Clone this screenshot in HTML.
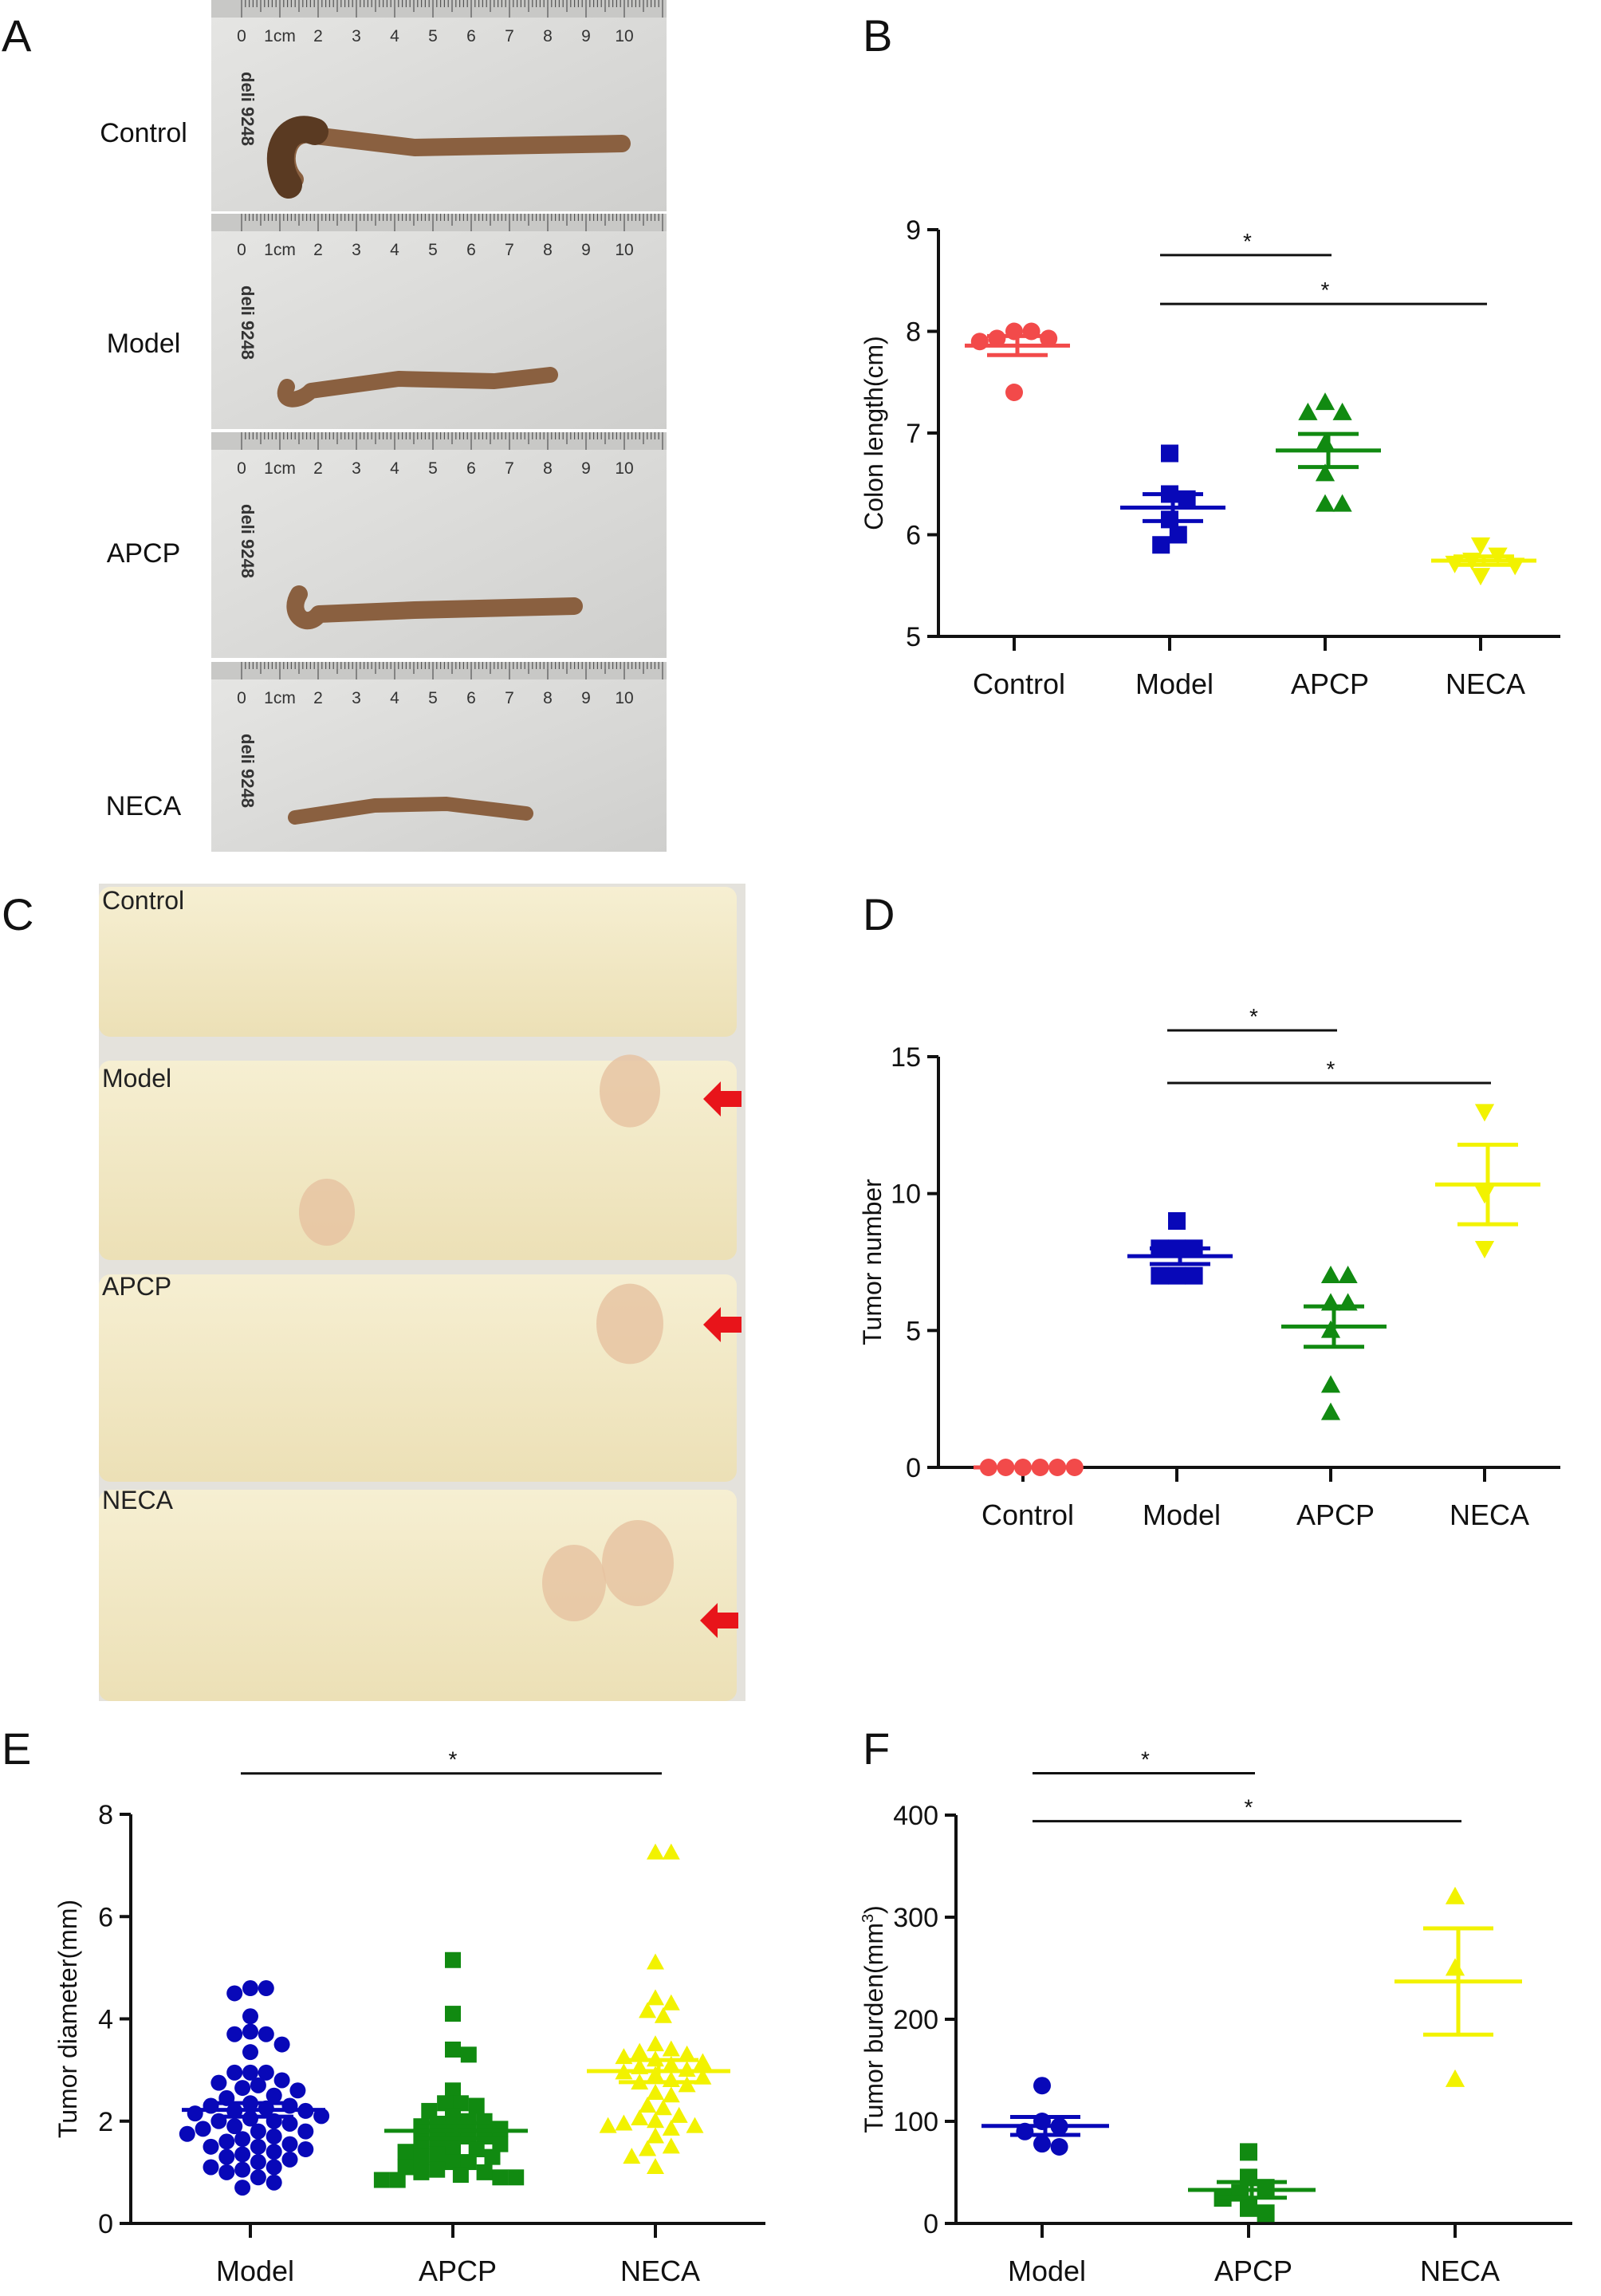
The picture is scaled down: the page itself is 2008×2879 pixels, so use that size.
<!DOCTYPE html>
<html><head><meta charset="utf-8"><style>
html,body{margin:0;padding:0;background:#fff;}
svg{display:block;font-family:"Liberation Sans",Arial,sans-serif;}
</style></head><body>
<svg id="fig" width="2008" height="2879" viewBox="0 0 2008 2879" xmlns="http://www.w3.org/2000/svg">
<defs>
<linearGradient id="grayBg" x1="0" y1="0" x2="1" y2="1"><stop offset="0" stop-color="#e6e6e4"/><stop offset="1" stop-color="#cfcfcd"/></linearGradient>
<linearGradient id="tissue" x1="0" y1="0" x2="0" y2="1"><stop offset="0" stop-color="#f6efd2"/><stop offset="1" stop-color="#ece0b6"/></linearGradient>
</defs>
<g id="photosA"></g>
<g id="photosC"></g>
<g id="charts"></g>
<g font-size="56" fill="#111">
<text x="2" y="64">A</text>
<text x="1082" y="64">B</text>
<text x="2" y="1166">C</text>
<text x="1082" y="1166">D</text>
<text x="2" y="2212">E</text>
<text x="1082" y="2212">F</text>
</g>
<g font-size="34" fill="#111" text-anchor="middle">
<text x="180" y="178">Control</text>
<text x="180" y="442">Model</text>
<text x="180" y="705">APCP</text>
<text x="180" y="1022">NECA</text>
</g>
</svg>
<script>
const NS="http://www.w3.org/2000/svg";
function mk(tag,attrs,parent){const e=document.createElementNS(NS,tag);for(const k in attrs)e.setAttribute(k,attrs[k]);if(parent)parent.appendChild(e);return e;}

// ---------- Photos A ----------
const pA=document.getElementById('photosA');
const subs=[[0,265,'control'],[268,538,'model'],[542,825,'apcp'],[830,1068,'neca']];
const colonPaths=[
 "M395 170 C360 160 350 205 370 225 M395 170 L520 185 L780 180",
 "M360 485 C350 505 375 505 390 490 L500 475 L620 478 L690 470",
 "M375 745 C360 770 385 790 400 770 L520 765 L720 760",
 "M370 1025 L470 1010 L560 1008 L660 1020"];
const colonW=[22,20,22,18];
subs.forEach((s,i)=>{
 const g=mk('g',{},pA);
 
 
 mk('rect',{x:265,y:s[0],width:571,height:s[1]-s[0],fill:'url(#grayBg)'},g);
 mk('rect',{x:265,y:s[0],width:571,height:22,fill:'#c8c8c6'},g);
 for(let k=0;k<=110;k++){const x=303+k*4.8;const h=k%10==0?22:(k%5==0?15:9);mk('line',{x1:x,y1:s[0],x2:x,y2:s[0]+h,stroke:'#555','stroke-width':1.2},g);}
 for(let k=0;k<=10;k++){const t=mk('text',{x:303+k*48,y:s[0]+52,'font-size':21,fill:'#333','text-anchor':'middle'},g);t.textContent=k==1?'1cm':String(k);}
 const dl=mk('text',{x:0,y:0,'font-size':22,fill:'#333','font-weight':'bold',transform:`translate(303,${s[0]+90}) rotate(90)`},g);dl.textContent='deli 9248';
 mk('path',{d:colonPaths[i],fill:'none',stroke:'#8a6040','stroke-width':colonW[i],'stroke-linecap':'round','stroke-linejoin':'round'},g);
});
mk('path',{d:"M395 165 C355 150 340 200 362 232",fill:'none',stroke:'#5a3a22','stroke-width':34,'stroke-linecap':'round'},pA);

// ---------- Photos C ----------
const pC=document.getElementById('photosC');
mk('rect',{x:124,y:1108,width:811,height:1025,fill:'#e4e2dc'},pC);
const strips=[[1112,1300],[1330,1580],[1598,1858],[1868,2133]];
strips.forEach((s,i)=>{mk('rect',{x:124,y:s[0],width:800,height:s[1]-s[0],rx:14,fill:'url(#tissue)'},pC);});
[[790,1368,38],[410,1520,35],[790,1660,42],[800,1960,45],[720,1985,40]].forEach(c=>mk('ellipse',{cx:c[0],cy:c[1],rx:c[2],ry:c[2]*1.2,fill:'#e6c2a0',opacity:0.8},pC));
const cl=[['Control',1140],['Model',1363],['APCP',1624],['NECA',1892]];
cl.forEach(c=>{const t=mk('text',{x:128,y:c[1],'font-size':32,fill:'#222'},pC);t.textContent=c[0];});
[[904,1378],[904,1661],[900,2032]].forEach(a=>{const p=mk('path',{d:`M${a[0]-22} ${a[1]} L${a[0]} ${a[1]-22} L${a[0]} ${a[1]-10} L${a[0]+26} ${a[1]-10} L${a[0]+26} ${a[1]+10} L${a[0]} ${a[1]+10} L${a[0]} ${a[1]+22} Z`,fill:'#e8141a'},pC);
 
 });

// ---------- Chart data ----------
const catsB=['Control','Model','APCP','NECA'];
const bControl=[8.0,8.0,7.93,7.93,7.9,7.4];
const bModel=[6.8,6.4,6.35,6.15,6.0,5.9];
const bAPCP=[7.3,7.2,7.2,6.9,6.6,6.3,6.3];
const bNECA=[5.9,5.8,5.75,5.72,5.7,5.6];
const ticksB=[5,6,7,8,9];
const sigB=[[1,2,8.75],[1,3,8.27]];

const catsD=['Control','Model','APCP','NECA'];
const dControl=[0,0,0,0,0,0];
const dModel=[9,8,8,8,7,7,7];
const dAPCP=[7,7,6,6,5,3,2];
const dNECA=[13,10,8];
const ticksD=[0,5,10,15];
const sigD=[[1,2,15.96],[1,3,14.04]];

const catsE=['Model','APCP','NECA'];
const eModel=[4.6,4.6,4.5,4.05,3.75,3.7,3.7,3.5,3.35,2.95,2.95,2.95,2.8,2.75,2.7,2.65,2.6,2.5,2.45,2.35,2.3,2.3,2.25,2.2,2.2,2.15,2.1,2.05,2.0,2.0,1.95,1.9,1.85,1.8,1.8,1.75,1.7,1.65,1.6,1.55,1.5,1.5,1.45,1.4,1.35,1.3,1.25,1.2,1.1,1.1,1.05,1.0,0.9,0.8,0.7];
const eAPCP=[5.15,4.1,3.4,3.3,2.6,2.35,2.3,2.35,2.2,2.1,2.0,2.0,1.95,1.9,1.85,1.8,1.7,1.7,1.65,1.6,1.55,1.5,1.45,1.4,1.35,1.3,1.3,1.2,1.2,1.1,1.05,1.0,1.0,0.95,0.9,0.9,0.85,0.85];
const eNECA=[7.25,7.25,5.1,4.4,4.3,4.15,4.05,3.5,3.4,3.35,3.3,3.25,3.2,3.15,3.1,3.05,3.0,2.95,2.9,2.85,2.8,2.75,2.7,2.55,2.5,2.3,2.25,2.1,2.05,2.0,1.95,1.9,1.9,1.85,1.7,1.5,1.45,1.3,1.1];
const ticksE=[0,2,4,6,8];
const sigE=[[0,2,8.8]];

const catsF=['Model','APCP','NECA'];
const fModel=[135,100,95,90,78,75];
const fAPCP=[70,45,35,30,25,15,10];
const fNECA=[320,250,141];
const ticksF=[0,100,200,300,400];
const sigF=[[0,1,441],[0,2,394]];

const RED='#f24a4a',BLUE='#0808b8',GREEN='#118a11',YEL='#f2f200';

function chart(cfg){
 const g=mk('g',{},document.getElementById('charts'));
 
 
 const y=v=>cfg.yBot-(v-cfg.min)/(cfg.max-cfg.min)*(cfg.yBot-cfg.yTop);
 const x=i=>cfg.x0+cfg.off+i*cfg.step;
 const ya=mk('line',{x1:cfg.x0,y1:cfg.yTop,x2:cfg.x0,y2:cfg.yBot,stroke:'#111','stroke-width':4},g);
 
 
 const xa=mk('line',{x1:cfg.x0-14,y1:cfg.yBot,x2:cfg.xEnd,y2:cfg.yBot,stroke:'#111','stroke-width':4},g);
 
 
 cfg.ticks.forEach(t=>{
  mk('line',{x1:cfg.x0-14,y1:y(t),x2:cfg.x0,y2:y(t),stroke:'#111','stroke-width':4},g);
  const tx=mk('text',{x:cfg.x0-22,y:y(t)+12,'font-size':34,'text-anchor':'end',fill:'#111'},g);tx.textContent=t;
  
  
 });
 cfg.cats.forEach((c,i)=>{
  mk('line',{x1:x(i),y1:cfg.yBot,x2:x(i),y2:cfg.yBot+18,stroke:'#111','stroke-width':4},g);
  const tx=mk('text',{x:x(i)+6,y:cfg.yBot+72,'font-size':36,'text-anchor':'middle',fill:'#111'},g);tx.textContent=c;
  
  
 });
 const yl=mk('text',{x:0,y:0,'font-size':32,'text-anchor':'middle',fill:'#111',transform:`translate(${cfg.x0-cfg.ylOff},${(cfg.yTop+cfg.yBot)/2}) rotate(-90)`},g);
 
 
 if(cfg.ylabelSup){yl.textContent=cfg.ylabel;const ts=mk('tspan',{'font-size':20,dy:-12},yl);ts.textContent='3';const t2=mk('tspan',{dy:12},yl);t2.textContent=')';}
 else yl.textContent=cfg.ylabel;
 cfg.sig.forEach(s=>{
  const yy=y(s[2]);
  const l=mk('line',{x1:x(s[0])-12,y1:yy,x2:x(s[1])+8,y2:yy,stroke:'#111','stroke-width':3},g);
  
  
  const st=mk('text',{x:(x(s[0])+x(s[1]))/2,y:yy-8,'font-size':28,'text-anchor':'middle',fill:'#111'},g);st.textContent='*';
  
  
 });
 cfg.series.forEach((ser,i)=>{
  const sg=mk('g',{},g);
  
  
  const vals=ser.vals, r=cfg.r, d=2*r+2;
  const placed=[];
  const order=vals.map((v,k)=>k).sort((a,b)=>vals[b]-vals[a]);
  order.forEach(k=>{
   const py=y(vals[k]);let px=x(i);
   if(!cfg.row){
    for(let m=0;m<40;m++){const off=(m%2?1:-1)*Math.ceil(m/2)*d*0.45;const cx=x(i)+off;
     if(placed.every(p=>Math.hypot(p[0]-cx,p[1]-py)>=d*0.85)){px=cx;break;}}
   }
   placed.push([px,py]);
   let m;
   if(ser.shape=='circle') m=mk('circle',{cx:px,cy:py,r:r,fill:ser.color},sg);
   else if(ser.shape=='square') m=mk('rect',{x:px-r,y:py-r,width:2*r,height:2*r,fill:ser.color},sg);
   else if(ser.shape=='tri') m=mk('path',{d:`M${px} ${py-r*1.15} L${px+r*1.1} ${py+r*0.85} L${px-r*1.1} ${py+r*0.85} Z`,fill:ser.color},sg);
   else m=mk('path',{d:`M${px} ${py+r*1.15} L${px+r*1.1} ${py-r*0.85} L${px-r*1.1} ${py-r*0.85} Z`,fill:ser.color},sg);
   
   
  });
  const n=vals.length, mean=vals.reduce((a,b)=>a+b,0)/n;
  const sd=Math.sqrt(vals.reduce((a,b)=>a+(b-mean)*(b-mean),0)/(n-1)); const sem=sd/Math.sqrt(n);
  const cx=x(i)+4;
  const ml=mk('line',{x1:cx-cfg.mw,y1:y(mean),x2:cx+cfg.mw,y2:y(mean),stroke:ser.color,'stroke-width':5},sg);
  
  
  if(sem>0){
   mk('line',{x1:cx,y1:y(mean+sem),x2:cx,y2:y(mean-sem),stroke:ser.color,'stroke-width':5},sg);
   [mean+sem,mean-sem].forEach(v=>{const el=mk('line',{x1:cx-cfg.ew,y1:y(v),x2:cx+cfg.ew,y2:y(v),stroke:ser.color,'stroke-width':5},sg);
    
    });
  }
 });
}

chart({name:'chart-colon-length',x0:1177,yTop:288,yBot:798,xEnd:1957,min:5,max:9,off:95,step:195,cats:catsB,ticks:ticksB,ylabel:'Colon length(cm)',ylOff:70,sig:sigB,r:11,mw:66,ew:38,
 series:[{vals:bControl,color:RED,shape:'circle'},{vals:bModel,color:BLUE,shape:'square'},{vals:bAPCP,color:GREEN,shape:'tri'},{vals:bNECA,color:YEL,shape:'tridown'}]});
chart({name:'chart-tumor-number',x0:1177,yTop:1325,yBot:1840,xEnd:1957,min:0,max:15,off:106,step:193,cats:catsD,ticks:ticksD,ylabel:'Tumor number',ylOff:72,sig:sigD,r:11,mw:66,ew:38,
 series:[{vals:dControl,color:RED,shape:'circle'},{vals:dModel,color:BLUE,shape:'square'},{vals:dAPCP,color:GREEN,shape:'tri'},{vals:dNECA,color:YEL,shape:'tridown'}]});
chart({name:'chart-tumor-diameter',x0:164,yTop:2275,yBot:2788,xEnd:960,min:0,max:8,off:150,step:254,cats:catsE,ticks:ticksE,ylabel:'Tumor diameter(mm)',ylOff:68,sig:sigE,r:10,mw:90,ew:50,
 series:[{vals:eModel,color:BLUE,shape:'circle'},{vals:eAPCP,color:GREEN,shape:'square'},{vals:eNECA,color:YEL,shape:'tri'}]});
chart({name:'chart-tumor-burden',x0:1199,yTop:2276,yBot:2788,xEnd:1972,min:0,max:400,off:108,step:259,cats:catsF,ticks:ticksF,ylabel:'Tumor burden(mm',ylabelSup:true,ylOff:92,sig:sigF,r:11,mw:80,ew:44,
 series:[{vals:fModel,color:BLUE,shape:'circle'},{vals:fAPCP,color:GREEN,shape:'square'},{vals:fNECA,color:YEL,shape:'tri'}]});
</script>
</body></html>
